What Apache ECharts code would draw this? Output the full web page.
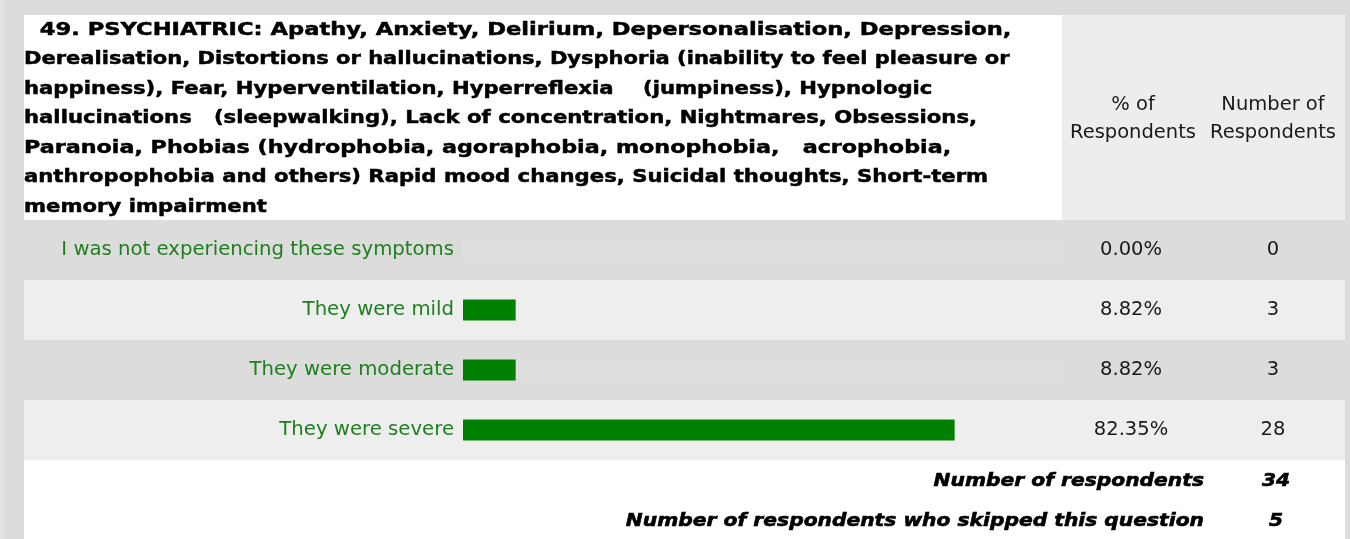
<!DOCTYPE html>
<html>
<head>
<meta charset="utf-8">
<title>Survey question 49</title>
<script src="https://cdn.jsdelivr.net/npm/echarts@6/dist/echarts.min.js"></script>
<style>
  html, body { margin: 0; padding: 0; background: #dcdcdc; }
  #chart { width: 1350px; height: 539px; }
</style>
</head>
<body>
<div id="chart"></div>
<script>
// Question text, shown as the header block
const questionLines = [
  '  49. PSYCHIATRIC: Apathy, Anxiety, Delirium, Depersonalisation, Depression,',
  'Derealisation, Distortions or hallucinations, Dysphoria (inability to feel pleasure or',
  'happiness), Fear, Hyperventilation, Hyperreflexia    (jumpiness), Hypnologic',
  'hallucinations   (sleepwalking), Lack of concentration, Nightmares, Obsessions,',
  'Paranoia, Phobias (hydrophobia, agoraphobia, monophobia,   acrophobia,',
  'anthropophobia and others) Rapid mood changes, Suicidal thoughts, Short-term',
  'memory impairment'
];

// Answer options and results
const categories = [
  'I was not experiencing these symptoms',
  'They were mild',
  'They were moderate',
  'They were severe'
];
const percentValues = [0.00, 8.82, 8.82, 82.35];
const respondentCounts = [0, 3, 3, 28];

// Column headings
const percentHeading = '% of\nRespondents';
const countHeading = 'Number of\nRespondents';

// Summary lines under the table
const summaryLabels = ['Number of respondents', 'Number of respondents who skipped this question'];
const summaryValues = [34, 5];

const GREEN_TEXT = '#1f7f1f';
const BAR_GREEN = '#008000';
const ROW_LIGHT = '#eeeeee';
const HEADING_FONT = 'bold 18.5px "DejaVu Sans"';
const SUMMARY_FONT = 'italic bold 18px "DejaVu Sans"';

// The heading face is set wider than DejaVu Sans Bold; stretch each line horizontally.
const HEADING_STRETCH = 1.145;
const headingStretchFor = function (i) {
  if (i === 0) return 1.222;  // the all-caps opening line runs wider
  if (i === 1) return 1.136;
  if (i === 4) return 1.202;
  return HEADING_STRETCH;
};

const chart = echarts.init(document.getElementById('chart'), null, { renderer: 'canvas' });

const graphics = [
  // thin outer strip on the left
  { type: 'rect', shape: { x: 0, y: 0, width: 4, height: 539 }, style: { fill: '#e3e3e3' }, z: -10 },
  // question header cell
  { type: 'rect', shape: { x: 24, y: 15, width: 1038, height: 205 }, style: { fill: '#ffffff' }, z: -10 },
  // column header cell
  { type: 'rect', shape: { x: 1062, y: 15, width: 283, height: 205 }, style: { fill: '#ededed' }, z: -10 },
  // footer area
  { type: 'rect', shape: { x: 24, y: 460, width: 1321, height: 79 }, style: { fill: '#ffffff' }, z: -10 },
  // column headings
  {
    type: 'text', x: 1133, y: 119, z: 5,
    style: { text: percentHeading, fill: '#1a1a1a', font: '19.5px "DejaVu Sans"', align: 'center', verticalAlign: 'middle', lineHeight: 28 }
  },
  {
    type: 'text', x: 1273, y: 119, z: 5,
    style: { text: countHeading, fill: '#1a1a1a', font: '19.5px "DejaVu Sans"', align: 'center', verticalAlign: 'middle', lineHeight: 28 }
  }
];

// question text, one line per element
questionLines.forEach(function (line, i) {
  graphics.push({
    type: 'text', x: 24, y: 30 + i * 29.5, z: 5,
    scaleX: headingStretchFor(i),
    style: {
      text: line, fill: '#000', stroke: '#000', lineWidth: 0.5,
      font: HEADING_FONT, align: 'left', verticalAlign: 'middle'
    }
  });
});

// alternating row stripes (odd rows are lighter)
categories.forEach(function (c, i) {
  if (i % 2 === 1) {
    graphics.push({ type: 'rect', shape: { x: 24, y: 220 + i * 60, width: 1321, height: 60 }, style: { fill: ROW_LIGHT }, z: -10 });
  }
});

// summary lines
summaryLabels.forEach(function (label, i) {
  const y = 481 + i * 40;
  graphics.push({
    type: 'text', x: 1204, y: y, z: 5, scaleX: 1.125,
    style: { text: label, fill: '#000', stroke: '#000', lineWidth: 0.6, font: SUMMARY_FONT, align: 'right', verticalAlign: 'middle' }
  });
  graphics.push({
    type: 'text', x: 1276, y: y, z: 5, scaleX: 1.125,
    style: { text: String(summaryValues[i]), fill: '#000', stroke: '#000', lineWidth: 0.6, font: SUMMARY_FONT, align: 'center', verticalAlign: 'middle' }
  });
});

const option = {
  backgroundColor: '#dcdcdc',
  animation: false,
  graphic: graphics,
  grid: { left: 463, right: 290, top: 220, bottom: 79, containLabel: false },
  xAxis: {
    type: 'value', min: 0, max: 100, show: false
  },
  yAxis: [
    {
      type: 'category', data: categories, inverse: true,
      axisLine: { show: false }, axisTick: { show: false }, splitLine: { show: false },
      axisLabel: { interval: 0, margin: 9, color: GREEN_TEXT, fontFamily: 'DejaVu Sans', fontSize: 19.7 }
    },
    {
      type: 'category', data: percentValues.map(function (v) { return v.toFixed(2) + '%'; }),
      inverse: true, position: 'right',
      axisLine: { show: false }, axisTick: { show: false }, splitLine: { show: false },
      axisLabel: { interval: 0, margin: 71, align: 'center', color: '#1a1a1a', fontFamily: 'DejaVu Sans', fontSize: 19.5 }
    },
    {
      type: 'category', data: respondentCounts.map(String),
      inverse: true, position: 'right',
      axisLine: { show: false }, axisTick: { show: false }, splitLine: { show: false },
      axisLabel: { interval: 0, margin: 213, align: 'center', color: '#1a1a1a', fontFamily: 'DejaVu Sans', fontSize: 19.5 }
    }
  ],
  series: [
    {
      type: 'bar',
      data: percentValues,
      yAxisIndex: 0,
      barWidth: 21,
      showBackground: true,
      backgroundStyle: { color: 'rgba(255,255,255,0.08)' },
      itemStyle: { color: BAR_GREEN }
    }
  ]
};

chart.setOption(option);
</script>
</body>
</html>
